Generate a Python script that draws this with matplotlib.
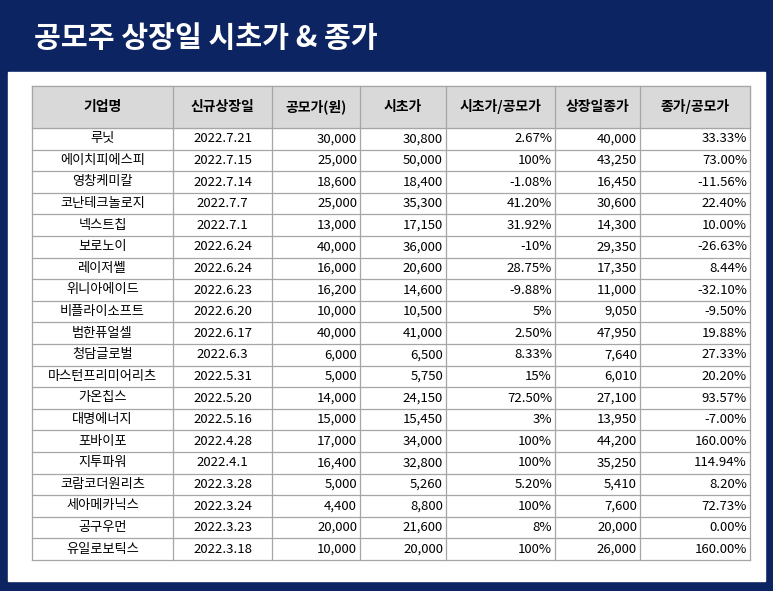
import matplotlib
matplotlib.use("Agg")
import matplotlib.pyplot as plt
from matplotlib.patches import Rectangle
from matplotlib import font_manager

title = "공모주 상장일 시초가 & 종가"
headers = ["기업명", "신규상장일", "공모가(원)", "시초가", "시초가/공모가", "상장일종가", "종가/공모가"]
companies = ["루닛", "에이치피에스피", "영창케미칼", "코난테크놀로지", "넥스트칩", "보로노이", "레이저쎌",
             "위니아에이드", "비플라이소프트", "범한퓨얼셀", "청담글로벌", "마스턴프리미어리츠", "가온칩스",
             "대명에너지", "포바이포", "지투파워", "코람코더원리츠", "세아메카닉스", "공구우먼", "유일로보틱스"]
dates = ["2022.7.21", "2022.7.15", "2022.7.14", "2022.7.7", "2022.7.1", "2022.6.24", "2022.6.24",
         "2022.6.23", "2022.6.20", "2022.6.17", "2022.6.3", "2022.5.31", "2022.5.20", "2022.5.16",
         "2022.4.28", "2022.4.1", "2022.3.28", "2022.3.24", "2022.3.23", "2022.3.18"]
ipo_price = ["30,000", "25,000", "18,600", "25,000", "13,000", "40,000", "16,000", "16,200", "10,000", "40,000",
             "6,000", "5,000", "14,000", "15,000", "17,000", "16,400", "5,000", "4,400", "20,000", "10,000"]
open_price = ["30,800", "50,000", "18,400", "35,300", "17,150", "36,000", "20,600", "14,600", "10,500", "41,000",
              "6,500", "5,750", "24,150", "15,450", "34,000", "32,800", "5,260", "8,800", "21,600", "20,000"]
open_ratio = ["2.67%", "100%", "-1.08%", "41.20%", "31.92%", "-10%", "28.75%", "-9.88%", "5%", "2.50%",
              "8.33%", "15%", "72.50%", "3%", "100%", "100%", "5.20%", "100%", "8%", "100%"]
close_price = ["40,000", "43,250", "16,450", "30,600", "14,300", "29,350", "17,350", "11,000", "9,050", "47,950",
               "7,640", "6,010", "27,100", "13,950", "44,200", "35,250", "5,410", "7,600", "20,000", "26,000"]
close_ratio = ["33.33%", "73.00%", "-11.56%", "22.40%", "10.00%", "-26.63%", "8.44%", "-32.10%", "-9.50%", "19.88%",
               "27.33%", "20.20%", "93.57%", "-7.00%", "160.00%", "114.94%", "8.20%", "72.73%", "0.00%", "160.00%"]

cols = [companies, dates, ipo_price, open_price, open_ratio, close_price, close_ratio]
W, H = 773, 591
avail = {f.name for f in font_manager.fontManager.ttflist}
FONT = [f for f in ["Noto Sans CJK KR", "Noto Sans CJK JP", "Noto Sans CJK SC", "Noto Sans CJK TC"] if f in avail] or ["DejaVu Sans"]
FONT = FONT + ["DejaVu Sans"]
navy = "#0c2461"

fig = plt.figure(figsize=(W / 100, H / 100), dpi=100)
ax = fig.add_axes([0, 0, 1, 1])
ax.set_xlim(0, W); ax.set_ylim(H, 0); ax.axis("off")

ax.add_patch(Rectangle((0, 0), W, H, color=navy))
ax.add_patch(Rectangle((8, 72), W - 16, H - 82, color="white"))
ax.text(34, 38, title, color="white", fontsize=21, fontweight="bold", family=FONT, va="center", ha="left")

xs = [32, 173, 272, 360, 446, 555, 640, 750]
top, head_h, row_h = 86, 42, 21.6
n = len(companies)
bottom = top + head_h + n * row_h
ax.add_patch(Rectangle((xs[0], top), xs[-1] - xs[0], head_h, color="#d9d9d9"))
lc = "#a6a6a6"
for x in xs:
    ax.plot([x, x], [top, bottom], color=lc, lw=0.9)
ys = [top] + [top + head_h + i * row_h for i in range(n + 1)]
for y in ys:
    ax.plot([xs[0], xs[-1]], [y, y], color=lc, lw=0.9)

for j, h in enumerate(headers):
    ax.text((xs[j] + xs[j + 1]) / 2, top + head_h / 2, h, fontsize=10, family=FONT,
            fontweight="bold", ha="center", va="center")
for i in range(n):
    yc = top + head_h + (i + 0.5) * row_h
    for j, col in enumerate(cols):
        if j < 2:
            ax.text((xs[j] + xs[j + 1]) / 2, yc, col[i], fontsize=9.5, family=FONT, ha="center", va="center")
        else:
            ax.text(xs[j + 1] - 3, yc, col[i], fontsize=9.5, family=FONT, ha="right", va="center")

fig.savefig("out.png", dpi=100)
